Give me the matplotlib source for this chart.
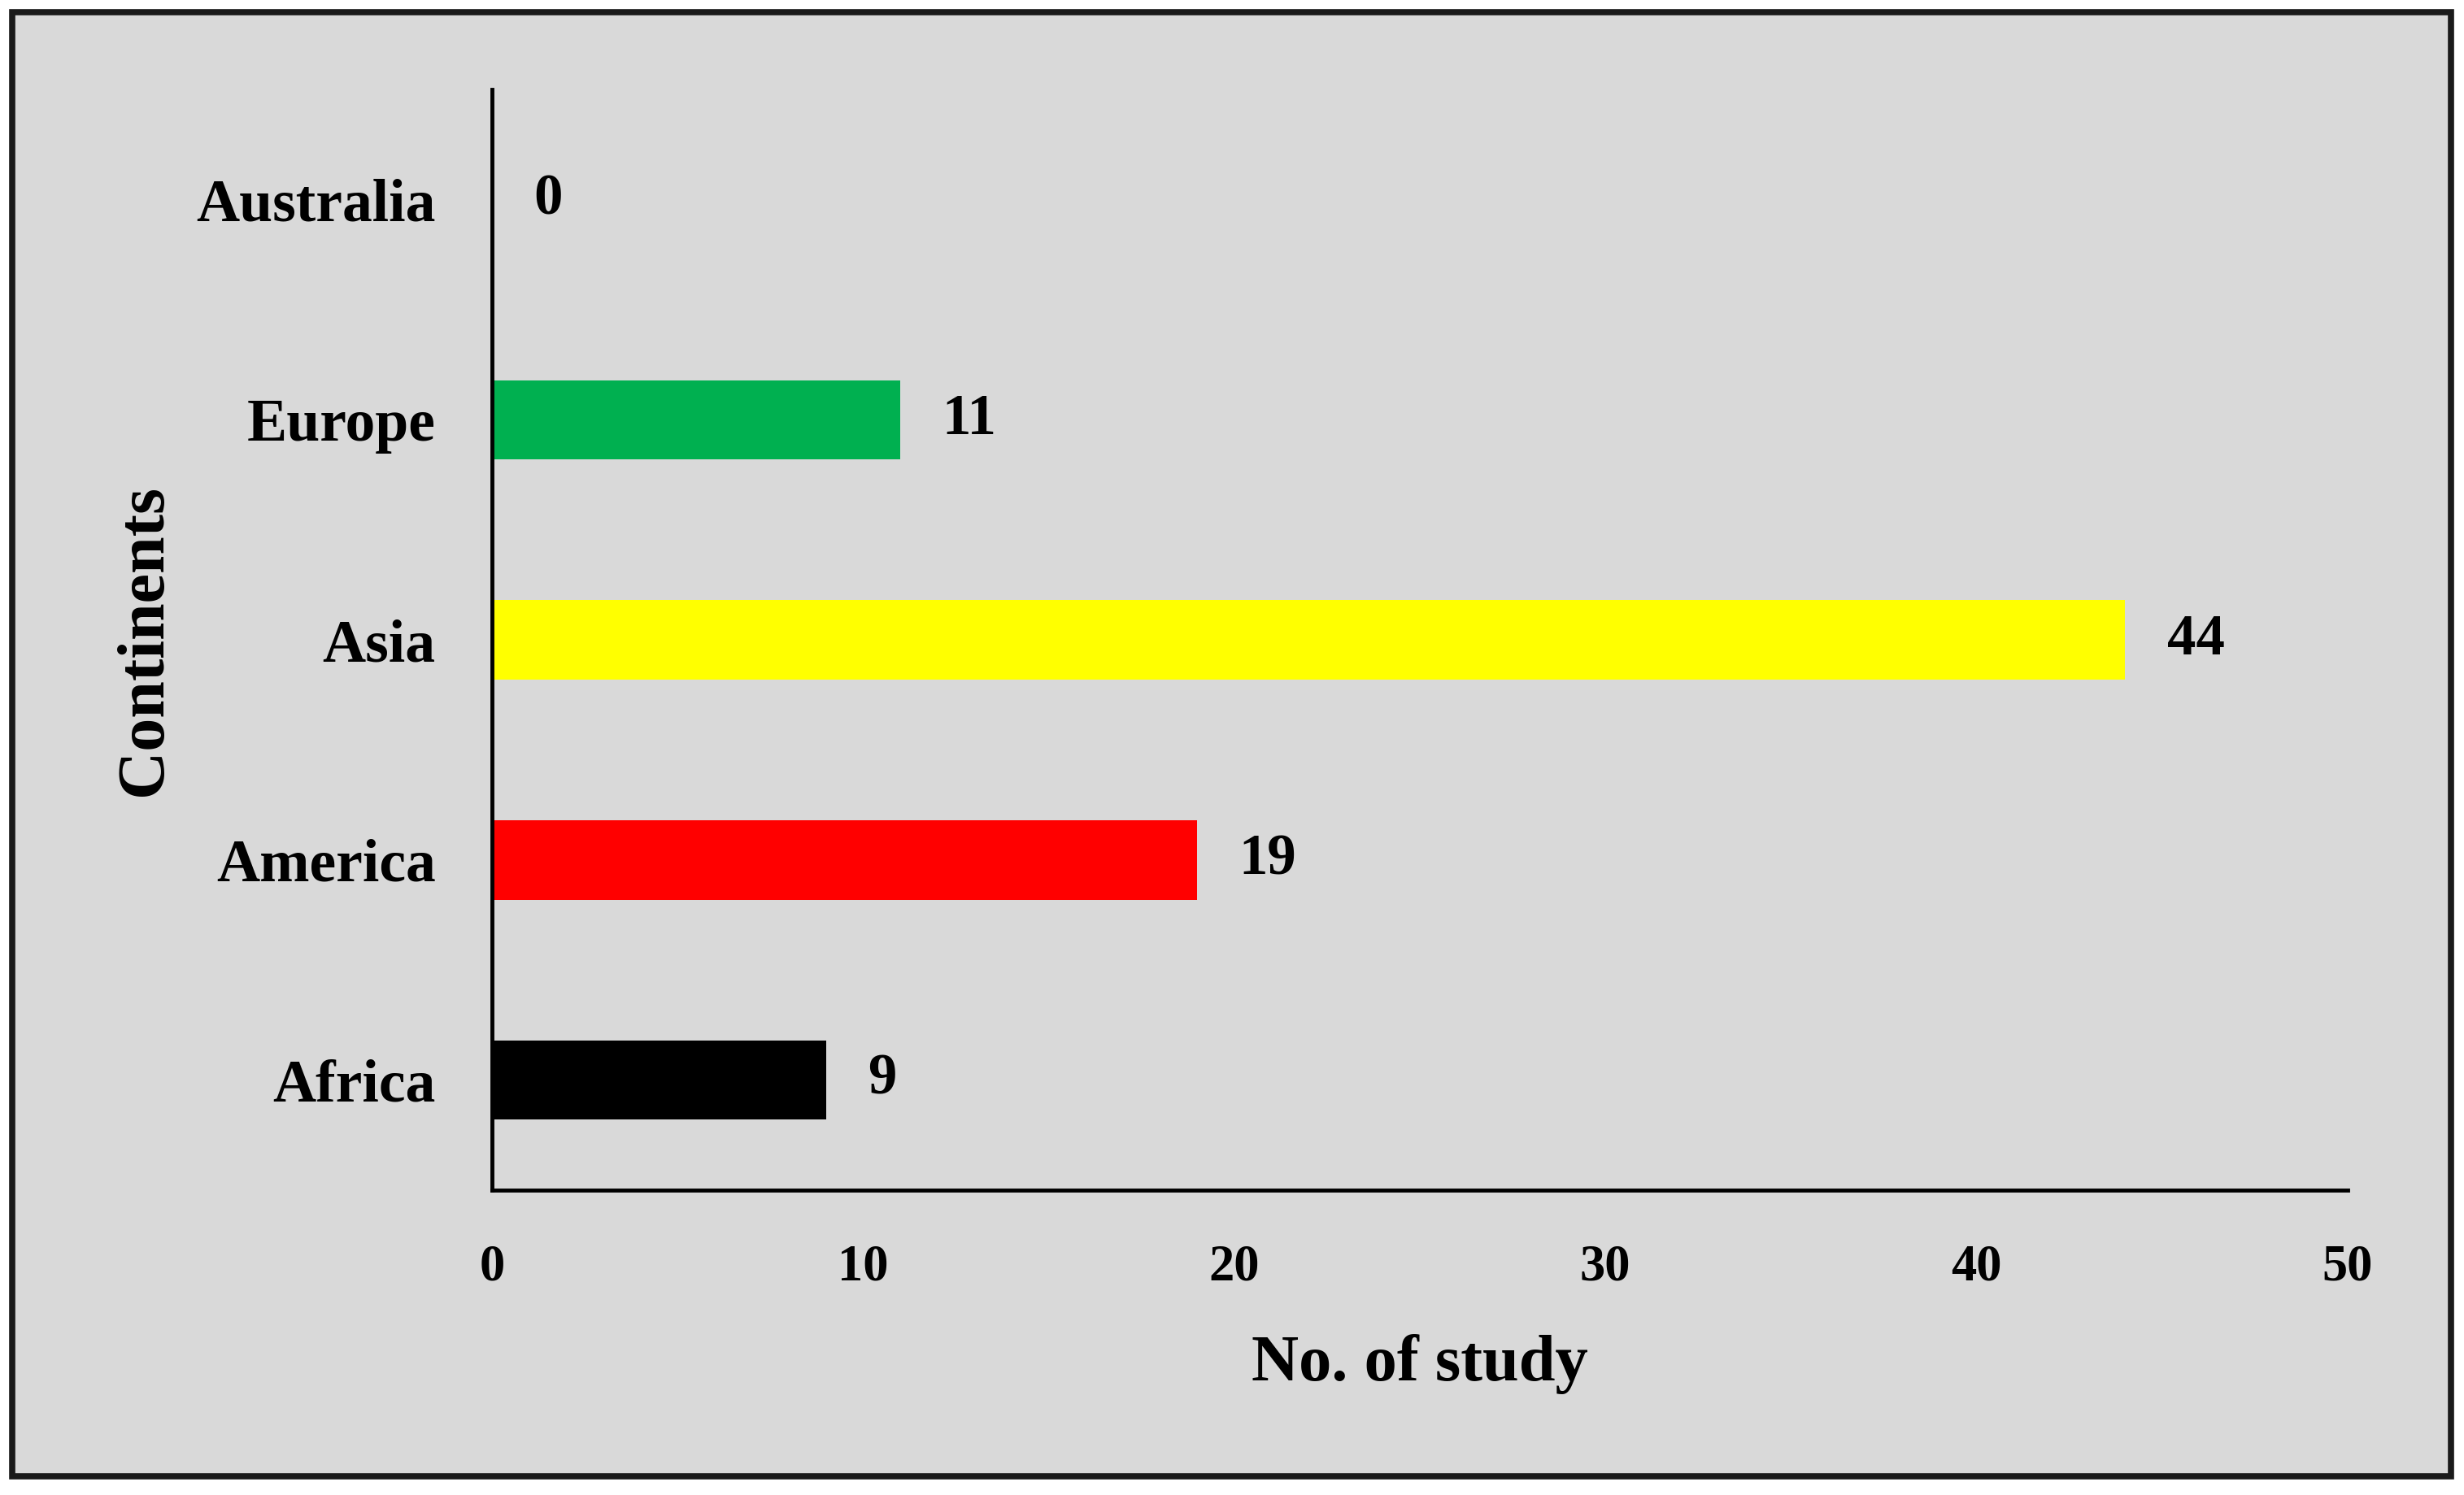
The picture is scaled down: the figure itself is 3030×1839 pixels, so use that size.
import matplotlib.pyplot as plt
from matplotlib.patches import Rectangle

continents = ['Africa', 'America', 'Asia', 'Europe', 'Australia']
studies = [9, 19, 44, 11, 0]
bar_colors = ['#000000', '#ff0000', '#ffff00', '#00b050', '#000000']
x_ticks = [0, 10, 20, 30, 40, 50]

plt.rcParams['font.family'] = ['Liberation Serif', 'DejaVu Serif']
plt.rcParams['font.weight'] = 'bold'

fig = plt.figure(figsize=(30.3, 18.39), dpi=100)
fig.patch.set_facecolor('white')

# grey panel with dark frame around everything
frame = Rectangle((0.005, 0.0125), 0.9897, 0.9793, transform=fig.transFigure,
                  facecolor='#d9d9d9', edgecolor='#1a1a1a', linewidth=5.5, zorder=-10)
fig.patches.append(frame)

ax = fig.add_axes([0.1997, 0.204, 0.7531, 0.736])
ax.set_facecolor('#d9d9d9')
ax.set_zorder(1)

bars = ax.barh(range(len(continents)), studies, height=0.36, color=bar_colors)
ax.bar_label(bars, labels=[str(v) for v in studies], padding=37,
             fontsize=51, fontweight='bold')

ax.set_xlim(0, 50)
ax.set_ylim(-0.5, 4.5)
ax.set_xticks(x_ticks)
ax.set_yticks(range(len(continents)))
ax.set_yticklabels(continents)

ax.tick_params(axis='x', length=0, pad=48, labelsize=45)
ax.tick_params(axis='y', length=0, pad=50, labelsize=53)

for spine in ['top', 'right']:
    ax.spines[spine].set_visible(False)
for spine in ['left', 'bottom']:
    ax.spines[spine].set_linewidth(3.5)
    ax.spines[spine].set_color('black')

ax.set_xlabel('No. of study', fontsize=58, fontweight='bold', labelpad=38)
ax.set_ylabel('Continents', fontsize=59, fontweight='bold', labelpad=18)

fig.savefig('out.png', dpi=100, facecolor=fig.get_facecolor())
